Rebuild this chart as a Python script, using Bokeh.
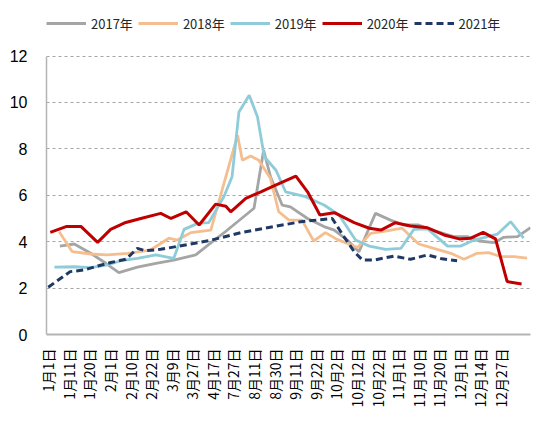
from bokeh.plotting import figure
from bokeh.models import Range1d, FixedTicker, Legend, LegendItem
from bokeh.embed import file_html
from bokeh.resources import INLINE
import math

# category labels (every 3rd category position)
tick_pos = list(range(0, 67, 3))
tick_labels = ["1月1日", "1月11日", "1月20日", "2月1日", "2月10日", "2月22日", "3月9日",
               "3月27日", "4月17日", "7月27日", "8月11日", "8月30日", "9月11日", "9月22日",
               "10月2日", "10月12日", "10月22日", "11月1日", "11月10日", "11月20日",
               "12月1日", "12月14日", "12月27日"]

# 2017
x2017 = [1.7, 3.8, 6.2, 8.4, 10.3, 13.0, 15.7, 18.3, 21.5, 23.7, 25.9, 30.0, 31.4, 32.4,
         34.1, 35.3, 37.8, 40.2, 41.7, 43.6, 45.3, 47.7, 49.9, 51.8, 54.0, 56.7, 59.1,
         61.1, 62.8, 65.0, 66.4, 68.4, 70.3]
y2017 = [3.81, 3.90, 3.50, 3.07, 2.67, 2.90, 3.07, 3.21, 3.43, 3.95, 4.45, 5.44, 7.94, 6.80,
         5.58, 5.50, 5.00, 4.65, 4.50, 4.07, 3.57, 5.22, 4.93, 4.72, 4.72, 4.43, 4.22,
         4.22, 4.03, 3.96, 4.19, 4.22, 4.60]
# 2018
x2018 = [1.6, 3.5, 6.2, 8.6, 11.6, 14.9, 17.6, 18.8, 20.8, 23.7, 27.6, 28.3, 29.5, 30.7,
         32.4, 33.6, 35.1, 37.0, 38.7, 40.4, 42.1, 45.1, 47.0, 49.4, 51.6, 54.0, 56.2,
         58.7, 60.6, 62.5, 64.2, 65.9, 67.9, 69.8]
y2018 = [4.43, 3.57, 3.47, 3.43, 3.50, 3.64, 4.15, 4.07, 4.39, 4.50, 8.59, 7.51, 7.69, 7.51,
         6.72, 5.29, 4.93, 4.93, 4.03, 4.39, 4.10, 3.75, 4.36, 4.47, 4.58, 3.90, 3.71,
         3.50, 3.24, 3.50, 3.53, 3.36, 3.36, 3.29]
# 2019
x2019 = [0.9, 3.8, 6.2, 8.6, 10.6, 13.0, 15.7, 18.3, 19.8, 21.8, 23.4, 25.6, 26.8, 27.8,
         29.3, 30.5, 31.5, 33.2, 34.6, 37.5, 40.2, 42.4, 44.8, 46.8, 49.2, 51.4, 53.3,
         55.3, 58.2, 60.1, 62.1, 65.5, 67.4, 69.3]
y2019 = [2.90, 2.92, 2.88, 3.00, 3.18, 3.28, 3.43, 3.28, 4.53, 4.79, 4.82, 5.94, 6.80, 9.59,
         10.31, 9.38, 7.66, 7.08, 6.15, 5.94, 5.58, 5.15, 4.07, 3.81, 3.67, 3.71, 4.53,
         4.55, 3.81, 3.81, 4.07, 4.33, 4.86, 4.15]
# 2020
x2020 = [0.3, 2.6, 4.8, 7.2, 9.1, 11.3, 13.5, 16.4, 17.9, 20.1, 22.0, 24.4, 25.9, 26.6,
         28.8, 31.0, 32.9, 36.1, 37.8, 39.6, 41.7, 44.6, 46.8, 48.5, 50.6, 52.8, 55.3,
         57.7, 59.9, 61.6, 63.4, 65.2, 66.9, 69.0]
y2020 = [4.40, 4.65, 4.65, 3.97, 4.53, 4.83, 5.00, 5.22, 5.00, 5.29, 4.72, 5.62, 5.53, 5.29,
         5.87, 6.15, 6.41, 6.83, 6.15, 5.15, 5.25, 4.82, 4.58, 4.50, 4.82, 4.68, 4.60,
         4.29, 4.12, 4.15, 4.40, 4.12, 2.28, 2.18]
# 2021
x2021 = [0.0, 3.2, 5.2, 7.2, 9.1, 11.3, 13.0, 14.2, 16.4, 23.4, 28.1, 32.9, 36.8, 41.4,
         43.1, 44.6, 45.8, 47.5, 50.4, 52.8, 55.3, 57.4, 59.6]
y2021 = [2.04, 2.71, 2.78, 2.95, 3.10, 3.24, 3.71, 3.61, 3.67, 4.04, 4.39, 4.65, 4.86, 5.00,
         4.22, 3.57, 3.21, 3.21, 3.38, 3.24, 3.43, 3.26, 3.18]

y_ticks = [0, 2, 4, 6, 8, 10, 12]

# the frame reaches above 12 to leave room for the legend; axis/grid stop at 12
p = figure(width=534, height=410, output_backend="svg", toolbar_location=None,
           x_range=Range1d(-0.25, 70.3), y_range=Range1d(0, 14.05),
           min_border_left=46, min_border_right=4, min_border_top=8,
           min_border_bottom=75)
p.outline_line_color = None
p.background_fill_color = "white"
p.border_fill_color = "white"

r17 = p.line(x2017, y2017, line_color="#A5A5A5", line_width=2.8)
r18 = p.line(x2018, y2018, line_color="#F5BE8F", line_width=2.8)
r19 = p.line(x2019, y2019, line_color="#8FCCDA", line_width=2.8)
r20 = p.line(x2020, y2020, line_color="#C00000", line_width=3)
r21 = p.line(x2021, y2021, line_color="#1F3864", line_width=3, line_dash="7 4")

p.xgrid.grid_line_color = None
p.ygrid.ticker = FixedTicker(ticks=y_ticks)
p.ygrid.grid_line_color = "#A6A6A6"
p.ygrid.grid_line_dash = "3 3"
p.ygrid.grid_line_width = 1

xa = p.xaxis[0]
xa.ticker = FixedTicker(ticks=tick_pos)
xa.major_label_overrides = {t: l for t, l in zip(tick_pos, tick_labels)}
xa.major_label_orientation = math.pi / 2
xa.major_tick_line_color = None
xa.minor_tick_line_color = None
xa.major_label_standoff = 8
xa.axis_line_color = "#B4B4B4"
xa.axis_line_width = 2
xa.major_label_text_font = "Noto Sans CJK SC"
xa.major_label_text_font_size = "14px"
xa.major_label_text_color = "#000000"

ya = p.yaxis[0]
ya.ticker = FixedTicker(ticks=y_ticks)
ya.bounds = (0, 12)
ya.major_tick_line_color = None
ya.minor_tick_line_color = None
ya.major_label_standoff = 13
ya.axis_line_color = "#B4B4B4"
ya.axis_line_width = 1.5
ya.major_label_text_font = "Liberation Sans"
ya.major_label_text_font_size = "16px"
ya.major_label_text_color = "#000000"

legend = Legend(items=[LegendItem(label="2017年", renderers=[r17]),
                       LegendItem(label="2018年", renderers=[r18]),
                       LegendItem(label="2019年", renderers=[r19]),
                       LegendItem(label="2020年", renderers=[r20]),
                       LegendItem(label="2021年", renderers=[r21])],
                orientation="horizontal", location=(0, 301),
                glyph_width=40, glyph_height=20, label_standoff=5, spacing=5,
                padding=0, margin=0, border_line_color=None,
                background_fill_alpha=0, label_text_font="Noto Sans CJK SC",
                label_text_font_size="13px", label_text_color="#262626",
                label_height=20)
p.add_layout(legend, "center")

open("out.html", "w").write(file_html(p, INLINE))
